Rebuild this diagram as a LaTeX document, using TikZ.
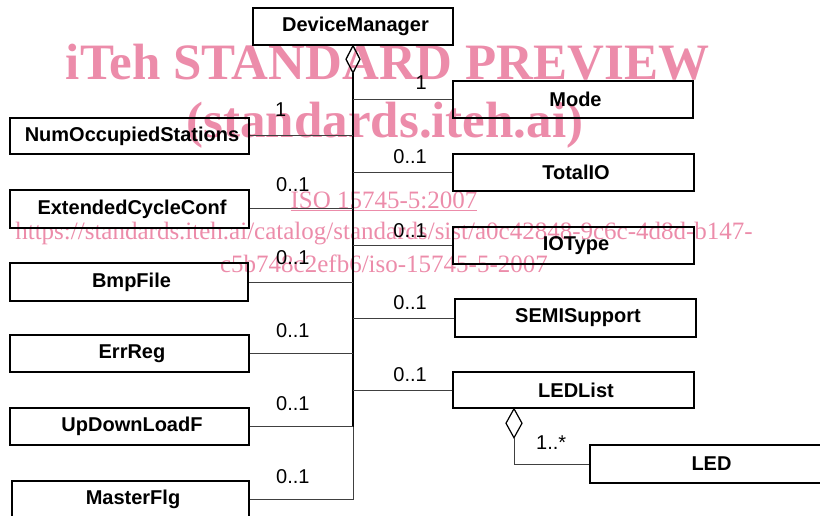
\documentclass[tikz,border=0pt]{standalone}
\usepackage{fontspec}
\setmainfont{Liberation Sans}
\newfontfamily\wmfont{Liberation Serif}
\definecolor{wmpink}{RGB}{236,140,170}
\begin{document}
\begin{tikzpicture}[x=1pt,y=-1pt,
  cls/.style={draw,line width=1.5pt,minimum width=240pt,minimum height=37pt,inner sep=0pt,
    font=\fontsize{20}{24}\selectfont\bfseries,execute at begin node={\hspace*{5pt}}},
  lbl/.style={inner sep=0pt,font=\fontsize{20}{24}\selectfont},
  br/.style={draw=black!75,line width=1pt},
  wmbig/.style={text=wmpink,inner sep=0pt,font=\wmfont\bfseries\fontsize{51}{60}\selectfont},
  wmsmall/.style={text=wmpink,inner sep=0pt,font=\wmfont\fontsize{25}{30}\selectfont}]
\clip (0,0) rectangle (820,516);
% watermark
\node[wmbig,anchor=base] (w1) at (387.5,80) {iTeh STANDARD PREVIEW};
\node[wmbig,anchor=base] (w2) at (385,138) {(standards.iteh.ai)};
\node[wmsmall,anchor=base] (w3) at (384,208) {\underline{ISO 15745-5:2007}};
\node[wmsmall,anchor=base] (w4) at (384,240) {https://standards.iteh.ai/catalog/standards/sist/a0c42848-9c6c-4d8d-b147-};
\node[wmsmall,anchor=base] (w5) at (384,272) {c5b748c2efb6/iso-15745-5-2007};
% classes
\node[cls,minimum width=200pt] (dm) at (353,26.5) {DeviceManager};
\node[cls] (mode) at (573,99.5) {Mode};
\node[cls,minimum width=241pt] (tio) at (573.5,172.5) {TotalIO};
\node[cls,minimum width=241pt] (iot) at (573.5,245.5) {IOType};
\node[cls,minimum width=241pt,minimum height=38pt] (semi) at (575.5,318) {SEMISupport};
\node[cls,minimum width=241pt,minimum height=36pt] (ledl) at (573.5,390) {LEDList};
\node[cls,minimum width=238pt,minimum height=38pt] (led) at (709,464) {LED};
\node[cls,minimum width=239pt,minimum height=36pt] (nos) at (129.5,136) {NumOccupiedStations};
\node[cls,minimum width=239pt,minimum height=38pt] (ecc) at (129.5,209) {ExtendedCycleConf};
\node[cls,minimum width=238pt,minimum height=38pt] (bmp) at (129,282) {BmpFile};
\node[cls,minimum width=239pt] (err) at (129.5,353.5) {ErrReg};
\node[cls,minimum width=239pt] (udl) at (129.5,426.5) {UpDownLoadF};
\node[cls,minimum width=237pt] (mf) at (130.5,499.5) {MasterFlg};
% aggregation diamond and trunk
\draw[line width=1.3pt] (dm.south) -- ++(-7,13.5) -- ++(7,13.5) coordinate (dtip) -- ++(7,-13.5) -- cycle;
\draw[line width=1.7pt] (dtip) -- (udl.east -| dtip);
\draw[br] (udl.east -| dtip) -- (mf.east -| dtip);
\foreach \n in {mode,tio,iot,semi,ledl} \draw[br] (\n.west) -- (\n.west -| dtip);
\foreach \n in {nos,ecc,bmp,err,udl,mf} \draw[br] (\n.east) -- (\n.east -| dtip);
% LEDList - LED
\draw[line width=1.2pt] ([xshift=-59.5pt]ledl.south) -- ++(-8,14.5) -- ++(8,14.5) coordinate (ltip) -- ++(8,-14.5) -- cycle;
\draw[br] (ltip) |- (led.west);
% multiplicities
\node[lbl,anchor=base east] (m1) at (427,90) {1};
\node[lbl,anchor=base east] (m2) at (427,164) {0..1};
\node[lbl,anchor=base east] (m3) at (427,237) {0..1};
\node[lbl,anchor=base east] (m4) at (427,309) {0..1};
\node[lbl,anchor=base east] (m5) at (427,381) {0..1};
\node[lbl,anchor=base west] (m6) at (275,117) {1};
\node[lbl,anchor=base west] (m7) at (276,192) {0..1};
\node[lbl,anchor=base west] (m8) at (276,265) {0..1};
\node[lbl,anchor=base west] (m9) at (276,337) {0..1};
\node[lbl,anchor=base west] (m10) at (276,410) {0..1};
\node[lbl,anchor=base west] (m11) at (276,483) {0..1};
\node[lbl,anchor=base west] (m12) at (536,449) {1..*};
\end{tikzpicture}
\end{document}
